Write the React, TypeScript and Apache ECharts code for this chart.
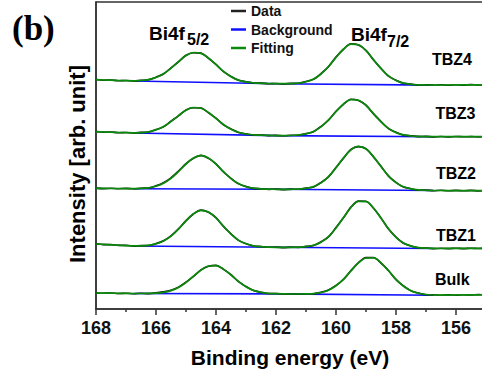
import React, { useEffect, useRef } from "react";
import * as echarts from "echarts";

// Binding energy grid (eV)
const energy = [168, 167.75, 167.5, 167.25, 167, 166.75, 166.5, 166.25, 166, 165.75, 165.5, 165.25, 165, 164.75, 164.5, 164.25, 164, 163.75, 163.5, 163.25, 163, 162.75, 162.5, 162.25, 162, 161.75, 161.5, 161.25, 161, 160.75, 160.5, 160.25, 160, 159.75, 159.5, 159.25, 159, 158.75, 158.5, 158.25, 158, 157.75, 157.5, 157.25, 157, 156.75, 156.5, 156.25, 156, 155.75, 155.5, 155.25, 155];

// Offset-stacked intensities (arb. unit)
const dataTBZ4 = [229.5,228.8,229.0,228.3,228.5,228.0,228.7,229.2,231.8,235.0,241.2,247.1,253.7,256.3,255.9,250.7,244.6,237.3,232.6,228.7,227.3,226.0,225.9,225.3,225.5,225.1,225.6,225.7,227.5,229.6,235.4,242.2,252.0,259.7,265.2,263.9,258.6,249.1,240.7,232.8,228.8,225.7,224.9,224.0,224.2,223.7,224.2,223.8,224.3,223.9,224.4,224.0,224.5];
const fitTBZ4 = [229.3,229.0,228.8,228.5,228.3,228.2,228.5,229.4,231.5,235.2,240.8,247.4,253.4,256.5,255.6,251.0,244.3,237.6,232.3,228.9,227.1,226.2,225.7,225.5,225.3,225.3,225.4,225.9,227.2,229.9,235.0,242.5,251.6,260.0,264.9,264.2,258.3,249.4,240.4,233.1,228.5,225.9,224.7,224.2,224.0,223.9,224.0,224.0,224.1,224.1,224.2,224.2,224.3];

const dataTBZ3 = [177.5,176.8,177.0,176.3,176.5,176.0,176.6,177.0,179.4,182.1,187.8,193.1,199.0,201.2,201.0,196.2,190.8,184.2,180.0,176.5,175.2,174.0,174.0,173.4,173.6,173.2,173.7,173.8,175.4,177.3,182.6,188.8,197.7,204.7,209.7,208.5,203.8,195.1,187.5,180.3,176.7,173.9,173.2,172.4,172.6,172.1,172.5,172.1,172.5,172.2,172.4,172.1,172.5];
const fitTBZ3 = [177.3,177.0,176.8,176.5,176.3,176.2,176.4,177.2,179.1,182.4,187.4,193.4,198.7,201.5,200.7,196.5,190.5,184.5,179.7,176.7,175.0,174.2,173.8,173.6,173.4,173.4,173.5,174.0,175.1,177.6,182.2,189.1,197.3,205.0,209.4,208.8,203.5,195.4,187.2,180.6,176.4,174.1,173.0,172.6,172.4,172.3,172.3,172.3,172.3,172.3,172.3,172.3,172.3];

const dataTBZ2 = [120.9,120.4,120.7,120.3,120.6,120.2,120.8,121.0,123.2,126.3,131.2,137.9,145.3,150.7,153.6,150.6,145.2,137.0,130.7,125.1,122.5,120.6,120.3,119.6,119.9,119.4,119.9,119.7,120.9,122.1,126.5,132.1,141.6,150.8,159.6,162.4,160.4,152.1,142.8,132.9,126.7,122.0,120.3,118.9,118.9,118.3,118.7,118.2,118.6,118.2,118.6,118.1,118.5];
const fitTBZ2 = [120.7,120.6,120.5,120.5,120.4,120.4,120.6,121.2,122.7,125.7,130.6,137.5,145.0,151.0,153.3,151.0,144.9,137.3,130.4,125.4,122.3,120.8,120.1,119.8,119.7,119.6,119.7,119.9,120.6,122.4,126.1,132.4,141.2,151.1,159.2,162.7,160.0,152.4,142.5,133.2,126.4,122.2,120.1,119.1,118.7,118.5,118.5,118.4,118.4,118.4,118.4,118.3,118.3];

const dataTBZ1 = [65.2,64.4,64.4,63.6,63.6,62.9,63.4,63.5,65.4,68.3,73.2,80.2,88.4,95.0,98.9,96.7,91.3,82.5,75.2,68.6,65.4,63.0,62.5,61.7,61.9,61.4,61.9,61.6,62.6,63.4,67.2,72.1,81.4,91.2,101.9,107.9,107.8,100.7,91.1,79.9,71.9,65.8,63.1,61.2,61.0,60.4,60.7,60.4,60.8,60.4,60.8,60.5,60.9];
const fitTBZ1 = [65.0,64.6,64.2,63.8,63.4,63.1,63.2,63.7,65.1,67.9,72.8,79.9,88.1,95.2,98.6,97.0,91.0,82.8,74.9,68.9,65.2,63.2,62.3,61.9,61.7,61.6,61.7,61.8,62.3,63.7,66.8,72.4,81.0,91.5,101.5,107.6,107.4,101.0,90.8,80.2,71.6,66.0,62.9,61.4,60.8,60.6,60.5,60.6,60.6,60.6,60.6,60.7,60.7];

const dataBulk = [16.2,15.7,16.0,15.5,15.8,15.3,15.7,15.4,16.2,17.1,18.8,21.9,26.9,32.6,39.2,42.8,43.6,39.6,34.3,27.3,22.5,18.4,16.8,15.5,15.5,14.9,15.2,14.8,15.3,15.2,16.8,19.1,23.6,29.5,38.5,46.4,51.4,51.5,45.9,38.5,29.4,23.1,18.1,15.9,14.3,14.2,13.7,14.1,13.8,14.3,14.0,14.4,14.1];
const fitBulk = [16.0,15.9,15.8,15.7,15.6,15.5,15.5,15.6,15.9,16.7,18.4,21.5,26.5,32.8,38.9,43.0,43.3,39.9,34.0,27.6,22.2,18.6,16.6,15.7,15.3,15.1,15.0,15.0,15.1,15.4,16.5,18.8,23.2,29.8,38.1,46.1,51.0,51.1,46.2,38.2,29.7,22.8,18.3,15.7,14.5,14.0,13.9,13.9,14.0,14.1,14.2,14.2,14.3];

// Background (Shirley-like) knots
const bgEnergy = [166.75, 162, 156.75];
const bgTBZ4 = [228.0, 225.3, 223.9];
const bgTBZ3 = [176.0, 173.4, 172.3];
const bgTBZ2 = [120.3, 119.7, 118.5];
const bgTBZ1 = [63.0, 61.7, 60.5];
const bgBulk = [15.5, 15.1, 13.8];

const sampleLabels = ["TBZ4", "TBZ3", "TBZ2", "TBZ1", "Bulk"];
const xTicks = [154, 168, 2]; // min, max, interval
const xTickLabels = [156, 158, 160, 162, 164, 166, 168];
const legendNames = ["Data", "Background", "Fitting"];

const SANS = '"Liberation Sans", Arial, Helvetica, sans-serif';

function pairs(xs: number[], ys: number[]) {
  return xs.map((x, i) => [x, ys[i]]);
}

export default function App() {
  const ref = useRef<HTMLDivElement>(null);

  useEffect(() => {
    document.body.style.margin = "0";
    if (!ref.current) return;
    const chart = echarts.init(ref.current, undefined, { renderer: "svg" });

    const samples = [
      { data: dataTBZ4, fit: fitTBZ4, bg: bgTBZ4 },
      { data: dataTBZ3, fit: fitTBZ3, bg: bgTBZ3 },
      { data: dataTBZ2, fit: fitTBZ2, bg: bgTBZ2 },
      { data: dataTBZ1, fit: fitTBZ1, bg: bgTBZ1 },
      { data: dataBulk, fit: fitBulk, bg: bgBulk },
    ];

    const series: any[] = [];
    samples.forEach((s) => {
      series.push({
        type: "line",
        name: "Background",
        data: pairs(bgEnergy, s.bg),
        symbol: "none",
        lineStyle: { color: "#1010ff", width: 1.6 },
        itemStyle: { color: "#1010ff" },
        z: 2,
        silent: true,
      });
      series.push({
        type: "line",
        name: "Data",
        data: pairs(energy, s.data),
        symbol: "none",
        smooth: 0.3,
        lineStyle: { color: "#111111", width: 1.6 },
        itemStyle: { color: "#222222" },
        z: 3,
        silent: true,
      });
      series.push({
        type: "line",
        name: "Fitting",
        data: pairs(energy, s.fit),
        symbol: "none",
        smooth: 0.35,
        lineStyle: { color: "#0a8a0a", width: 1.7 },
        itemStyle: { color: "#0a8a0a" },
        z: 4,
        silent: true,
      });
    });

    const labelPos = [
      [432, 59.5],
      [435.5, 113],
      [436, 173.3],
      [436, 235.8],
      [435, 279],
    ];

    const txt = (text: string, x: number, y: number, font: string, align = "left", rotation = 0) => ({
      type: "text",
      x,
      y,
      rotation,
      silent: true,
      z: 10,
      style: {
        text,
        font,
        fill: "#000",
        align,
        verticalAlign: "middle",
        textAlign: align,
        textVerticalAlign: "middle",
      },
    });

    const graphic: any[] = [
      txt("(b)", 12, 28, 'bold 35px "Liberation Serif", "Times New Roman", serif'),
      txt("Bi4f", 149, 33, `bold 19px ${SANS}`),
      txt("5/2", 187, 39.5, `bold 16px ${SANS}`),
      txt("Bi4f", 351, 34, `bold 19px ${SANS}`),
      txt("7/2", 387, 41, `bold 16px ${SANS}`),
      txt("Binding energy (eV)", 290, 357, `bold 21px ${SANS}`, "center"),
      txt("Intensity [arb. unit]", 77, 164, `bold 22px ${SANS}`, "center", Math.PI / 2),
      ...sampleLabels.map((l, i) => txt(l, labelPos[i][0], labelPos[i][1], `bold 16px ${SANS}`)),
    ];

    const axisColor = "#333";
    chart.setOption({
      animation: false,
      backgroundColor: "#fff",
      grid: {
        left: 96,
        top: 2,
        width: 420,
        height: 307,
        show: true,
        borderColor: axisColor,
        borderWidth: 1.5,
        backgroundColor: "transparent",
        outerBoundsMode: "none",
        containLabel: false,
      },
      legend: {
        data: legendNames,
        orient: "vertical",
        left: 226,
        top: -1,
        icon: "rect",
        itemWidth: 15,
        itemHeight: 2.5,
        itemGap: 4.5,
        textStyle: { fontSize: 14, fontWeight: "bold", color: "#111", fontFamily: SANS },
        selectedMode: false,
      },
      xAxis: {
        type: "value",
        min: xTicks[0],
        max: xTicks[1],
        interval: xTicks[2],
        inverse: true,
        axisLine: { show: true, lineStyle: { color: axisColor, width: 1.5 } },
        axisTick: { show: true, length: 6, lineStyle: { color: axisColor, width: 1.5 } },
        minorTick: { show: true, splitNumber: 2, length: 3, lineStyle: { color: axisColor, width: 1.5 } },
        splitLine: { show: false },
        minorSplitLine: { show: false },
        axisLabel: {
          fontSize: 18,
          fontWeight: "bold",
          color: "#111",
          margin: 10,
          fontFamily: SANS,
          formatter: (v: number) => (xTickLabels.indexOf(v) >= 0 ? String(v) : ""),
        },
      },
      yAxis: {
        type: "value",
        min: 0,
        max: 307,
        axisLine: { show: true, lineStyle: { color: axisColor, width: 1.5 } },
        axisTick: { show: false },
        axisLabel: { show: false },
        splitLine: { show: false },
      },
      graphic,
      series,
    });

    return () => chart.dispose();
  }, []);

  return <div ref={ref} style={{ width: 482, height: 372, overflow: "hidden" }} />;
}
